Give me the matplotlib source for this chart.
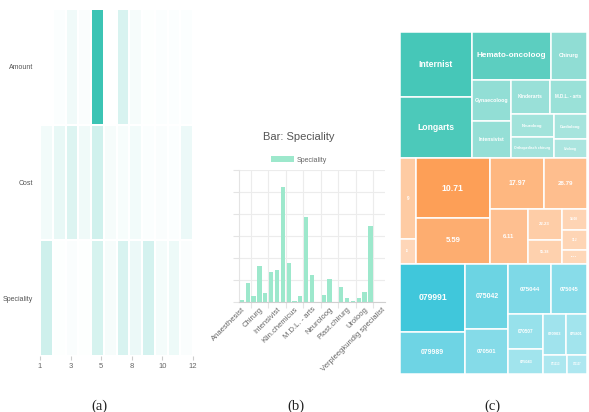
import matplotlib
matplotlib.use("Agg")
import matplotlib.pyplot as plt
import numpy as np
from matplotlib.colors import LinearSegmentedColormap, to_rgb
from matplotlib.patches import Rectangle, Patch

plt.rcParams["font.family"] = ["Liberation Sans", "DejaVu Sans"]

# ---- (a) heatmap data (relative intensity 0..1)
heat_rows = ["Amount", "Cost", "Speciality"]
heat_amount = [0.0, 0.02, 0.08, 0.03, 1.0, 0.0, 0.20, 0.05, 0.01, 0.02, 0.02, 0.02]
heat_cost = [0.07, 0.12, 0.18, 0.08, 0.24, 0.05, 0.04, 0.07, 0.02, 0.03, 0.02, 0.10]
heat_spec = [0.25, 0.01, 0.03, 0.01, 0.21, 0.05, 0.20, 0.10, 0.22, 0.06, 0.09, 0.03]
heat_ticks = [1, 3, 5, 8, 10, 12]

# ---- (b) bar data
bar_labels = ["Anaesthesist", "Cardio-thoracaal chirurg", "Cardioloog", "Chirurg",
              "Dermatoloog", "Gynaecoloog", "Intensivist", "Internist", "Kinderarts",
              "Klin.chemicus", "Klin.geriater", "Longarts", "M.D.L. - arts", "Nefroloog",
              "Neurochirurg", "Neuroloog", "Oogarts", "Orthopedisch chirurg",
              "Plast.chirurg", "Psychiater", "Radioloog", "Uroloog", "Verloskundige",
              "Verpleeghuisarts", "Verpleegkundig specialist"]
bar_values = [11, 86, 27, 164, 41, 138, 145, 523, 176, 6, 26, 385, 123, 2, 32, 106,
              1, 67, 17, 5, 18, 45, 345, 0, 0]

# ---- (c) treemap data
tm_spec_labels = ["Internist", "Longarts", "Hemato-oncoloog", "Chirurg", "Gynaecoloog",
                  "Intensivist", "Kinderarts", "M.D.L. - arts", "Neuroloog",
                  "Orthopedisch chirurg", "Cardioloog", "Uroloog"]
tm_spec_values = [4648, 4397, 3776, 1710, 1599, 1482, 1340, 1290, 975, 915, 838, 637]
tm_cost_labels = ["9", "16", "10.71", "5.59", "17.97", "28.79", "6.11", "22.23", "55.38",
                  "14.08", "33.2", "119.6"]
tm_cost_values = [1240, 388, 4433, 3390, 2700, 2150, 2063, 1071, 799, 548, 497, 357]
tm_code_labels = ["079991", "079989", "075042", "070501", "075044", "075045", "070507",
                  "075043", "070903", "075801", "071113", "071137"]
tm_code_values = [4454, 2751, 2817, 1913, 2172, 1793, 1225, 858, 900, 850, 468, 380]


def worst(row, side):
    s = sum(row)
    return max(max(side * side * r / (s * s), s * s / (side * side * r)) for r in row)


def squarify(vals, x, y, dx, dy):
    rects = []
    i = 0
    while i < len(vals):
        side = min(dx, dy)
        row = [vals[i]]
        i += 1
        while i < len(vals) and worst(row + [vals[i]], side) <= worst(row, side):
            row.append(vals[i])
            i += 1
        s = sum(row)
        if dx >= dy:
            w = s / dy
            yy = y
            for r in row:
                rects.append((x, yy, w, r / w))
                yy += r / w
            x += w
            dx -= w
        else:
            h = s / dx
            xx = x
            for r in row:
                rects.append((xx, y, r / h, h))
                xx += r / h
            y += h
            dy -= h
    return rects


fig = plt.figure(figsize=(5.89, 4.12), dpi=100)
FW, FH = 589, 412


def box(x0, y0, x1, y1):
    return [x0 / FW, 1 - y1 / FH, (x1 - x0) / FW, (y1 - y0) / FH]


# ---------------- (a)
ax = fig.add_axes(box(40, 9, 193, 356))
cmap = LinearSegmentedColormap.from_list("tealmap", ["#ffffff", "#3cc4b4"])
Z = np.array([heat_amount, heat_cost, heat_spec])
xe = np.linspace(1, 12, Z.shape[1] + 1)
ye = np.arange(Z.shape[0] + 1)
ax.pcolormesh(xe, ye, Z, cmap=cmap, vmin=0, vmax=1, edgecolors="white", linewidth=1.3)
ax.set_xlim(1, 12)
ax.set_ylim(len(heat_rows), 0)
ax.set_xticks(np.linspace(1, 12, len(heat_ticks)))
ax.set_xticklabels([str(t) for t in heat_ticks])
ax.set_yticks(np.arange(len(heat_rows)) + 0.5)
ax.set_yticklabels(heat_rows)
for s in ax.spines.values():
    s.set_visible(False)
ax.tick_params(axis="x", length=3, color="#cccccc", labelsize=5.5, labelcolor="#666666", pad=2)
ax.tick_params(axis="y", length=0, labelsize=5, labelcolor="#555555", pad=5)

# ---------------- (b)
bx = fig.add_axes(box(239, 170, 385, 302))
x = np.arange(len(bar_values))
bx.bar(x, bar_values, width=0.72, color="#9de8cc", zorder=2)
bx.set_xlim(-0.5, len(bar_values) - 0.5)
bx.set_ylim(0, 600)
bx.set_yticks(np.arange(0, 601, 100))
bx.set_yticklabels([])
bx.set_xticks(x[::3])
bx.set_xticklabels(bar_labels[::3], rotation=45, ha="right", va="top",
                   rotation_mode="anchor", fontsize=5.5, color="#666666")
bx.set_xticks(np.arange(1.5, len(bar_values) - 1, 3), minor=True)
bx.tick_params(axis="x", which="major", length=0, pad=3)
bx.tick_params(axis="x", which="minor", length=4, color="#e4e4e4", width=0.8)
bx.tick_params(axis="y", length=4, color="#e4e4e4", width=0.8)
bx.grid(True, axis="y", color="#ececec", linewidth=0.8, zorder=0)
bx.grid(True, axis="x", which="minor", color="#ececec", linewidth=0.8, zorder=0)
for k in ["top", "right"]:
    bx.spines[k].set_visible(False)
bx.spines["left"].set_color("#e4e4e4")
bx.spines["bottom"].set_color("#d0d0d0")
bx.spines["left"].set_linewidth(0.8)
bx.spines["bottom"].set_linewidth(0.8)
fig.text(299 / FW, 1 - 137 / FH, "Bar: Speciality", ha="center", va="center",
         fontsize=8, color="#555555")
fig.legend(handles=[Patch(facecolor="#9de8cc", label="Speciality")],
           loc="center", bbox_to_anchor=(299 / FW, 1 - 160 / FH), frameon=False,
           fontsize=5, labelcolor="#666666", handlelength=3.3, handleheight=0.9,
           handletextpad=0.4, borderpad=0)

# ---------------- (c)
cx = fig.add_axes(box(400, 32, 587, 374))
pos = cx.get_position()
W = pos.width * 5.89
H = pos.height * 4.12
groups = [(tm_spec_labels, tm_spec_values, "#3cc4b4"),
          (tm_cost_labels, tm_cost_values, "#fd9a4e"),
          (tm_code_labels, tm_code_values, "#36c4d9")]
total = sum(sum(g[1]) for g in groups)
y0 = 0.0
for labels, values, base in groups:
    gh = H * sum(values) / total
    scale = W * gh / sum(values)
    rects = squarify([v * scale for v in values], 0.0, y0, W, gh)
    vmax = max(values)
    base_rgb = np.array(to_rgb(base))
    for (rx, ry, rw, rh), lab, v in zip(rects, labels, values):
        a = 0.35 + 0.6 * v / vmax
        face = 1 - a * (1 - base_rgb)
        cx.add_patch(Rectangle((rx, ry), rw, rh, facecolor=face, edgecolor="white",
                               linewidth=1.1))
        area_px = rw * rh * 10000
        fs = min(6.2, 0.095 * np.sqrt(area_px), rw * 72 / (len(lab) * 0.62))
        cx.text(rx + rw / 2, ry + rh / 2, lab, ha="center", va="center", color="white",
                fontweight="bold", fontsize=fs)
    y0 += gh
cx.set_xlim(0, W)
cx.set_ylim(H, 0)
cx.axis("off")

# panel captions
for px, lab in [(99.5, "(a)"), (296, "(b)"), (492, "(c)")]:
    fig.text(px / FW, 1 - 406 / FH, lab, ha="center", va="center",
             family=["Liberation Serif", "DejaVu Serif"], fontsize=10.5, color="#222222")

fig.savefig("out.png", dpi=100)
